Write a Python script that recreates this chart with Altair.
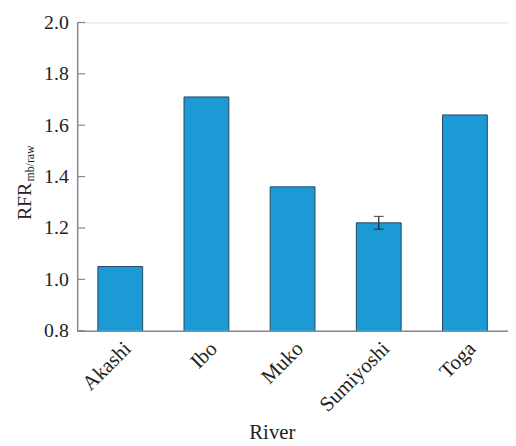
import altair as alt
import pandas as pd

rivers = ["Akashi", "Ibo", "Muko", "Sumiyoshi", "Toga"]
values = [1.05, 1.71, 1.36, 1.22, 1.64]
errors = [0.0, 0.0, 0.0, 0.025, 0.0]
y_ticks = [0.8, 1.0, 1.2, 1.4, 1.6, 1.8, 2.0]

df = pd.DataFrame({"River": rivers, "RFR": values, "err": errors})
df["lo"] = df["RFR"] - df["err"]
df["hi"] = df["RFR"] + df["err"]
err_df = df[df["err"] > 0]
tick_df = pd.DataFrame({"t": y_ticks})

FONT = "Liberation Serif"
W, H = 436, 312

xaxis = alt.Axis(title="River", labelAngle=-45, labelAlign="right",
                 labelBaseline="top", ticks=False, labelPadding=7,
                 labelFontSize=21, labelFont=FONT, labelColor="#222222",
                 titleFont=FONT, titleFontSize=21, titleFontWeight="normal",
                 titleColor="#222222", titleX=197, titleY=109,
                 titleBaseline="alphabetic", titleAnchor="middle",
                 domainColor="#888888", domainWidth=1.5)
xscale = alt.Scale(paddingInner=0.48, paddingOuter=0.24)
yscale = alt.Scale(domain=[0.8, 2.0], nice=False, zero=False)
yaxis = alt.Axis(title=None, values=y_ticks, format=".1f", ticks=False,
                 labelPadding=9, labelFontSize=20, labelFont=FONT,
                 labelColor="#222222", domainColor="#888888", domainWidth=1.5,
                 grid=False)

bars = alt.Chart(df).mark_bar(color="#1b9ad6", stroke="#28465e", strokeWidth=1, clip=True).encode(
    x=alt.X("River:N", sort=rivers, scale=xscale, axis=xaxis),
    y=alt.Y("RFR:Q", scale=yscale, axis=yaxis),
)

errbar = alt.Chart(err_df).mark_errorbar(ticks=alt.MarkConfig(size=10), color="#222222", thickness=1.2).encode(
    x=alt.X("River:N", sort=rivers, scale=xscale, axis=xaxis),
    y=alt.Y("lo:Q", scale=yscale, axis=yaxis),
    y2="hi:Q",
)

ticks = alt.Chart(tick_df).mark_rule(color="#888888", strokeWidth=1.2).encode(
    x=alt.value(0), x2=alt.value(8),
    y=alt.Y("t:Q", scale=yscale, axis=yaxis),
)

title_main = alt.Chart(pd.DataFrame({"s": ["RFR"]})).mark_text(
    angle=270, align="left", baseline="alphabetic", font=FONT, fontSize=20, color="#222222"
).encode(x=alt.value(-47), y=alt.value(200), text="s:N")

title_sub = alt.Chart(pd.DataFrame({"s": ["mb/raw"]})).mark_text(
    angle=270, align="left", baseline="alphabetic", font=FONT, fontSize=12, color="#222222"
).encode(x=alt.value(-44), y=alt.value(161), text="s:N")

chart = alt.layer(bars, errbar, ticks, title_main, title_sub).properties(
    width=W, height=H,
    autosize=alt.AutoSizeParams(type="none"),
    padding={"left": 70, "top": 12, "right": 0, "bottom": 112},
).configure_view(stroke="#888888", strokeWidth=1.5).configure(background="white")

chart.save("out.html", embed_options={"renderer": "svg", "actions": False})
